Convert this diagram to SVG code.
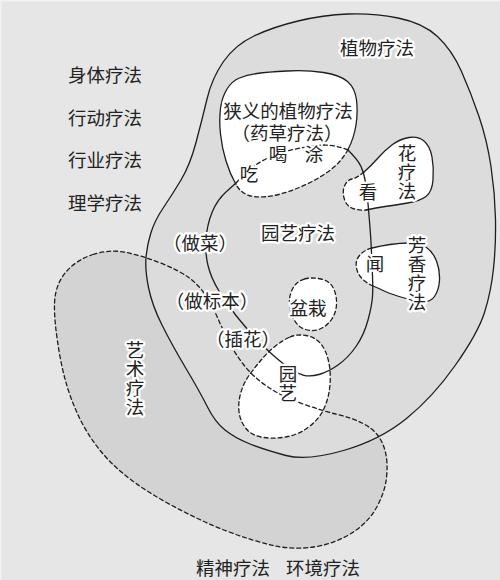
<svg xmlns="http://www.w3.org/2000/svg" width="500" height="580" viewBox="0 0 500 580">
<style>
.ln{fill:none;stroke:#1e1e1e;stroke-width:1.3;stroke-linejoin:round;stroke-linecap:round}
.ds{stroke-dasharray:4 3}
.wf{fill:#fff;stroke:none}
.t{font-family:"Noto Sans CJK SC","Noto Sans CJK JP",sans-serif;font-size:18.5px;fill:#222;text-anchor:middle;dominant-baseline:central}
.h{stroke:#fff;stroke-width:4.5;stroke-linejoin:round;paint-order:stroke fill}
</style>
<rect x="0" y="0" width="500" height="580" fill="#e6e6e6"/>
<rect x="0" y="0" width="500" height="1.5" fill="#f2f2f2"/>
<rect x="0" y="0" width="1.5" height="580" fill="#f2f2f2"/>

<g id="art-fill">
<path fill="#d3d3d3" d="M 93 254.5 Q 110 249 126.5 252.5 Q 143 256 160.5 263 Q 178 270 188 277 Q 198 284 205 294.5 Q 212 305 217 316.5 Q 222 328 228 340 Q 234 352 243.5 364.5 Q 253 377 268 387 Q 283 397 303 404 Q 323 411 337.5 414.5 Q 352 418 362 423 Q 372 428 377.5 435 Q 383 442 385.5 452.5 Q 388 463 386.5 477.5 Q 385 492 376.5 507.5 Q 368 523 351 533.5 Q 334 544 313.5 547 Q 293 550 273 545.5 Q 253 541 226.5 531 Q 200 521 166.5 502.5 Q 133 484 112.5 464 Q 92 444 79 417 Q 66 390 60 356.5 Q 54 323 54.5 304 Q 55 285 65.5 272.5 Q 76 260 93 254.5 Z"/>
</g>

<g id="plant">
<path class="ln" style="fill:#dcdcdc" d="M 348 14 Q 373 13 398 18 Q 423 23 437.5 36.5 Q 452 50 461.5 71.5 Q 471 93 479 116.5 Q 487 140 491 166.5 Q 495 193 495.5 219 Q 496 245 493.5 268.5 Q 491 292 484.5 312.5 Q 478 333 455.5 365 Q 433 397 406.5 418.5 Q 380 440 343.5 450.5 Q 307 461 286 455.5 Q 265 450 250 444 Q 235 438 225 430 Q 215 422 207.5 407 Q 200 392 186 368.5 Q 172 345 162 325 Q 152 305 148.5 287.5 Q 145 270 146 257.5 Q 147 245 151 232.5 Q 155 220 163.5 207.5 Q 172 195 181 180 Q 190 165 196 142.5 Q 202 120 207 99 Q 212 78 223.5 61.5 Q 235 45 254 36 Q 273 27 298 21 Q 323 15 348 14 Z"/>
</g>

<g id="narrow">
<path class="wf" d="M 287 71 Q 307 70 323.5 72.5 Q 340 75 347.5 81.5 Q 355 88 356.5 100 Q 358 112 356 125 Q 354 138 348 149.5 Q 342 161 331 169.5 Q 320 178 306 184.5 Q 292 191 278.5 194.5 Q 265 198 253.5 196.5 Q 242 195 236 184.5 Q 230 174 226 161 Q 222 148 220.5 134 Q 219 120 220.5 108.5 Q 222 97 227 89 Q 232 81 239.5 78 Q 247 75 257 73.5 Q 267 72 287 71 Z"/>
</g>
<g id="flower">
<path class="wf" d="M 364 172 Q 371 166 378 158 Q 385 150 392.5 144.5 Q 400 139 409 137.5 Q 418 136 424 141 Q 430 146 432 157 Q 434 168 433 180 Q 432 192 426 196.5 Q 420 201 407.5 203 Q 395 205 385 206.5 Q 375 208 368.5 209.5 Q 362 211 354.5 209 Q 347 207 344.5 199.5 Q 342 192 344.5 186 Q 347 180 352 179 Q 357 178 364 172 Z"/>
</g>
<g id="aroma">
<path class="wf" d="M 372 248 Q 380 246 390 244.5 Q 400 243 410 243 Q 420 243 426.5 247.5 Q 433 252 436.5 261 Q 440 270 439.5 280 Q 439 290 434.5 296.5 Q 430 303 420 301.5 Q 410 300 399 296.5 Q 388 293 383 290.5 Q 378 288 373 286 Q 368 284 363 279.5 Q 358 275 356.5 268 Q 355 261 359.5 255.5 Q 364 250 372 248 Z"/>
</g>
<g id="bonsai">
<path class="wf" d="M 304.5 279 Q 312 277 321 279 Q 330 281 333.5 288.5 Q 337 296 336.5 304.5 Q 336 313 331.5 319.5 Q 327 326 320 329 Q 313 332 305.5 329.5 Q 298 327 294 319.5 Q 290 312 289.5 303.5 Q 289 295 293 288 Q 297 281 304.5 279 Z"/>
</g>
<g id="yuanyi">
<path class="wf" d="M 290 337 Q 297 334 306 335.5 Q 315 337 320.5 343.5 Q 326 350 328.5 361 Q 331 372 330 384.5 Q 329 397 324.5 407.5 Q 320 418 310 426 Q 300 434 288 436.5 Q 276 439 264 437.5 Q 252 436 246 428.5 Q 240 421 239 411.5 Q 238 402 241 392 Q 244 382 250 374 Q 256 366 262 359 Q 268 352 275.5 346 Q 283 340 290 337 Z"/>
</g>

<g id="connectors">
<path class="ln" d="M 236 184.5 Q 230 174 226 161 Q 222 148 220.5 134 Q 219 120 220.5 108.5 Q 222 97 227 89 Q 232 81 239.5 78 Q 247 75 257 73.5 Q 267 72 287 71 Q 307 70 323.5 72.5 Q 340 75 347.5 81.5 Q 355 88 356.5 100 Q 358 112 356 125 Q 354 138 348 149.5"/>
<path class="ln ds" d="M 348 149.5 Q 342 161 331 169.5 Q 320 178 306 184.5 Q 292 191 278.5 194.5 Q 265 198 253.5 196.5 Q 242 195 236 184.5"/>
<path class="ln" d="M 364 172 Q 371 166 378 158 Q 385 150 392.5 144.5 Q 400 139 409 137.5 Q 418 136 424 141 Q 430 146 432 157 Q 434 168 433 180 Q 432 192 426 196.5 Q 420 201 407.5 203 Q 395 205 385 206.5 Q 375 208 368.5 209.5"/>
<path class="ln ds" d="M 368.5 209.5 Q 362 211 354.5 209 Q 347 207 344.5 199.5 Q 342 192 344.5 186 Q 347 180 352 179 Q 357 178 364 172"/>
<path class="ln" d="M 372 248 Q 380 246 390 244.5 Q 400 243 410 243 Q 420 243 426.5 247.5 Q 433 252 436.5 261 Q 440 270 439.5 280 Q 439 290 434.5 296.5 Q 430 303 420 301.5 Q 410 300 399 296.5 Q 388 293 383 290.5 Q 378 288 373 286"/>
<path class="ln ds" d="M 373 286 Q 368 284 363 279.5 Q 358 275 356.5 268 Q 355 261 359.5 255.5 Q 364 250 372 248"/>
<path class="ln ds" d="M 304.5 279 Q 312 277 321 279 Q 330 281 333.5 288.5 Q 337 296 336.5 304.5 Q 336 313 331.5 319.5 Q 327 326 320 329 Q 313 332 305.5 329.5 Q 298 327 294 319.5 Q 290 312 289.5 303.5 Q 289 295 293 288 Q 297 281 304.5 279 Z"/>
<path class="ln ds" d="M 290 337 Q 297 334 306 335.5 Q 315 337 320.5 343.5 Q 326 350 328.5 361 Q 331 372 330 384.5 Q 329 397 324.5 407.5 Q 320 418 310 426 Q 300 434 288 436.5 Q 276 439 264 437.5 Q 252 436 246 428.5 Q 240 421 239 411.5 Q 238 402 241 392 Q 244 382 250 374 Q 256 366 262 359 Q 268 352 275.5 346 Q 283 340 290 337 Z"/>
<path class="ln" d="M 348 150 Q 358 160 361 166.5 Q 364 173 365.5 182.5 Q 367 192 368 203.5 Q 369 215 370 227.5 Q 371 240 371.5 252.5 Q 372 265 372.5 276.5 Q 373 288 372.5 296.5 Q 372 305 368 320 Q 364 335 356 346.5 Q 348 358 338 365 Q 328 372 319 374.5 Q 310 377 303 375 Q 296 373 289 368 Q 282 363 274 356 Q 266 349 255.5 338 Q 245 327 236 315.5 Q 227 304 219 291 Q 211 278 208 265.5 Q 205 253 206 239 Q 207 225 212 212.5 Q 217 200 226.5 191.5 L 236 183"/>
<path class="ln ds" d="M 236 183 Q 246 172 257 164 Q 268 157 280 153 Q 300 147 323 145 Q 336 145 348 150"/>
<path class="ln ds" d="M 93 254.5 Q 110 249 126.5 252.5 Q 143 256 160.5 263 Q 178 270 188 277 Q 198 284 205 294.5 Q 212 305 217 316.5 Q 222 328 228 340 Q 234 352 243.5 364.5 Q 253 377 268 387 Q 283 397 303 404 Q 323 411 337.5 414.5 Q 352 418 362 423 Q 372 428 377.5 435 Q 383 442 385.5 452.5 Q 388 463 386.5 477.5 Q 385 492 376.5 507.5 Q 368 523 351 533.5 Q 334 544 313.5 547 Q 293 550 273 545.5 Q 253 541 226.5 531 Q 200 521 166.5 502.5 Q 133 484 112.5 464 Q 92 444 79 417 Q 66 390 60 356.5 Q 54 323 54.5 304 Q 55 285 65.5 272.5 Q 76 260 93 254.5 Z"/>
</g>

<g id="labels-outside">
<text class="t" x="105" y="74">身体疗法</text>
<text class="t" x="105" y="117">行动疗法</text>
<text class="t" x="105" y="159">行业疗法</text>
<text class="t" x="105" y="202">理学疗法</text>
<text class="t" x="233" y="567">精神疗法</text>
<text class="t" x="323" y="567">环境疗法</text>
</g>

<g id="labels-inside">
<text class="t h" x="377" y="47">植物疗法</text>
<text class="t h" x="288" y="110">狭义的植物疗法</text>
<text class="t h" x="287" y="132">（药草疗法）</text>
<text class="t h" x="278" y="153">喝</text>
<text class="t h" x="314" y="153">涂</text>
<text class="t h" x="249" y="173">吃</text>
<text class="t h" x="368" y="191">看</text>
<text class="t h"><tspan x="407" y="152">花</tspan><tspan x="407" y="171">疗</tspan><tspan x="407" y="190">法</tspan></text>
<text class="t h" x="298" y="232">园艺疗法</text>
<text class="t h" x="200" y="242">（做菜）</text>
<text class="t h" x="375" y="263">闻</text>
<text class="t h"><tspan x="417" y="244">芳</tspan><tspan x="417" y="263">香</tspan><tspan x="417" y="282">疗</tspan><tspan x="417" y="301">法</tspan></text>
<text class="t h" x="212" y="300">（做标本）</text>
<text class="t h" x="308" y="307">盆栽</text>
<text class="t h" x="243" y="338">（插花）</text>
<text class="t h"><tspan x="288" y="373">园</tspan><tspan x="288" y="392">艺</tspan></text>
<text class="t h"><tspan x="135" y="349">艺</tspan><tspan x="135" y="368">术</tspan><tspan x="135" y="387">疗</tspan><tspan x="135" y="406">法</tspan></text>
</g>
</svg>
